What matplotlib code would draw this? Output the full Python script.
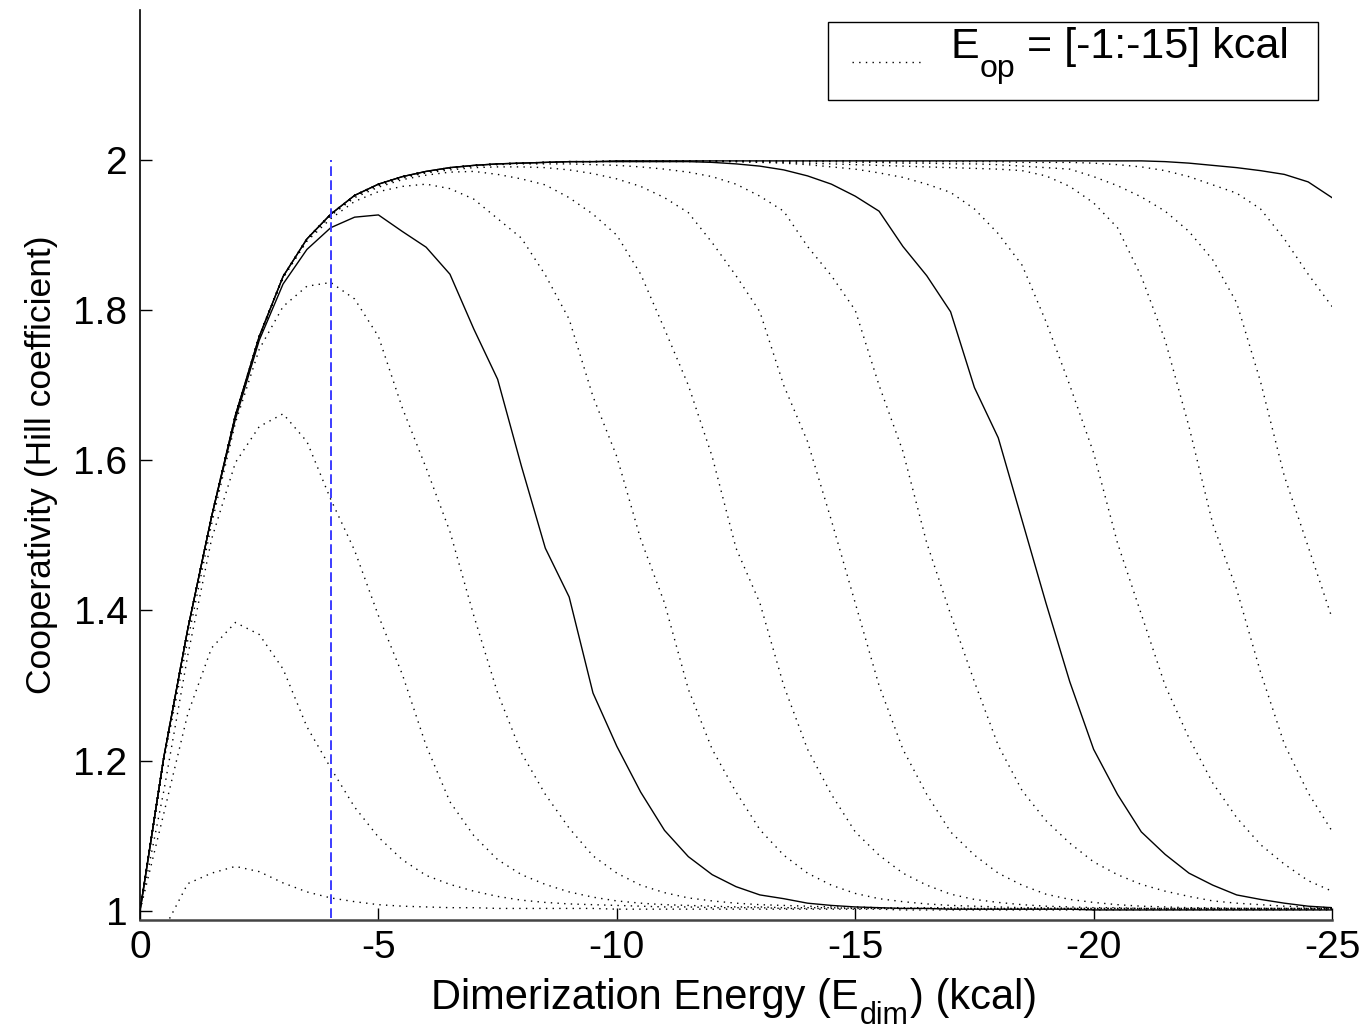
#!/usr/bin/env python3
"""
Cooperativity (Hill coefficient) vs dimerization energy for a family of
operator binding energies E_op = -1 ... -15 kcal.
"""

import matplotlib
matplotlib.use("Agg")
import matplotlib.pyplot as plt
from matplotlib.lines import Line2D
from matplotlib.patches import Rectangle
import numpy as np

# dimerization energy grid (kcal), 0.5 kcal steps
e_dim = np.linspace(0, -25, 51)

# operator energies of the curves
e_op = [-1, -2, -3, -4, -5, -6, -7, -8, -9, -10, -11, -12, -13, -14, -15]
solid_ops = [-5, -10, -15]

hill_op1 = [
    0.920, 0.975, 1.036, 1.050, 1.059, 1.052, 1.037, 1.025, 1.017, 1.012,
    1.008, 1.006, 1.005, 1.004, 1.004, 1.003, 1.003, 1.003, 1.003, 1.003,
    1.002, 1.002, 1.002, 1.002, 1.002, 1.002, 1.002, 1.002, 1.002, 1.002,
    1.002, 1.002, 1.001, 1.001, 1.001, 1.001, 1.001, 1.001, 1.001, 1.001,
    1.001, 1.001, 1.001, 1.001, 1.001, 1.001, 1.001, 1.001, 1.001, 1.001, 1.001]
hill_op2 = [
    1.000, 1.130, 1.262, 1.350, 1.384, 1.368, 1.322, 1.245, 1.190, 1.138,
    1.098, 1.068, 1.047, 1.035, 1.026, 1.019, 1.014, 1.011, 1.009, 1.008,
    1.007, 1.006, 1.005, 1.005, 1.004, 1.004, 1.004, 1.003, 1.003, 1.003,
    1.003, 1.003, 1.003, 1.003, 1.003, 1.002, 1.002, 1.002, 1.002, 1.002,
    1.002, 1.002, 1.002, 1.002, 1.002, 1.002, 1.002, 1.002, 1.002, 1.002, 1.002]
hill_op3 = [
    1.000, 1.160, 1.340, 1.495, 1.597, 1.645, 1.662, 1.625, 1.548, 1.480,
    1.393, 1.315, 1.220, 1.145, 1.100, 1.068, 1.048, 1.035, 1.025, 1.018,
    1.013, 1.010, 1.008, 1.007, 1.006, 1.005, 1.005, 1.004, 1.004, 1.004,
    1.003, 1.003, 1.003, 1.003, 1.003, 1.003, 1.003, 1.003, 1.003, 1.003,
    1.003, 1.003, 1.003, 1.002, 1.002, 1.002, 1.002, 1.002, 1.002, 1.002, 1.002]
hill_op4 = [
    1.000, 1.200, 1.360, 1.515, 1.650, 1.748, 1.805, 1.832, 1.837, 1.815,
    1.765, 1.670, 1.590, 1.505, 1.393, 1.290, 1.210, 1.155, 1.110, 1.073,
    1.050, 1.034, 1.024, 1.017, 1.013, 1.010, 1.008, 1.007, 1.006, 1.005,
    1.005, 1.004, 1.004, 1.004, 1.004, 1.003, 1.003, 1.003, 1.003, 1.003,
    1.003, 1.003, 1.003, 1.003, 1.003, 1.003, 1.003, 1.003, 1.003, 1.003, 1.003]
hill_op5 = [
    1.000, 1.205, 1.375, 1.525, 1.655, 1.760, 1.835, 1.881, 1.910, 1.924,
    1.927, 1.905, 1.884, 1.848, 1.775, 1.708, 1.592, 1.483, 1.418, 1.290,
    1.219, 1.158, 1.107, 1.072, 1.048, 1.032, 1.021, 1.016, 1.010, 1.007,
    1.005, 1.004, 1.003, 1.003, 1.002, 1.002, 1.002, 1.002, 1.002, 1.002,
    1.001, 1.001, 1.001, 1.001, 1.001, 1.001, 1.001, 1.001, 1.001, 1.001, 1.001]
hill_op6 = [
    1.000, 1.205, 1.375, 1.525, 1.660, 1.765, 1.843, 1.892, 1.922, 1.945,
    1.958, 1.965, 1.968, 1.962, 1.948, 1.922, 1.896, 1.847, 1.788, 1.685,
    1.605, 1.495, 1.410, 1.295, 1.215, 1.158, 1.108, 1.074, 1.050, 1.034,
    1.023, 1.016, 1.012, 1.009, 1.007, 1.006, 1.005, 1.004, 1.004, 1.003,
    1.003, 1.003, 1.003, 1.003, 1.003, 1.003, 1.003, 1.003, 1.003, 1.003, 1.003]
hill_op7 = [
    1.000, 1.205, 1.375, 1.525, 1.660, 1.765, 1.845, 1.894, 1.926, 1.950,
    1.964, 1.974, 1.980, 1.984, 1.985, 1.981, 1.975, 1.967, 1.950, 1.928,
    1.900, 1.848, 1.775, 1.700, 1.605, 1.483, 1.410, 1.300, 1.215, 1.155,
    1.105, 1.074, 1.050, 1.034, 1.022, 1.015, 1.011, 1.008, 1.006, 1.005,
    1.004, 1.004, 1.003, 1.003, 1.003, 1.003, 1.003, 1.003, 1.003, 1.003, 1.003]
hill_op8 = [
    1.000, 1.205, 1.375, 1.525, 1.660, 1.765, 1.845, 1.895, 1.927, 1.952,
    1.966, 1.976, 1.983, 1.987, 1.990, 1.991, 1.991, 1.990, 1.987, 1.982,
    1.975, 1.965, 1.950, 1.930, 1.890, 1.846, 1.798, 1.700, 1.625, 1.520,
    1.410, 1.300, 1.215, 1.155, 1.105, 1.074, 1.050, 1.034, 1.022, 1.015,
    1.011, 1.008, 1.006, 1.005, 1.004, 1.004, 1.003, 1.003, 1.003, 1.003, 1.003]
hill_op9 = [
    1.000, 1.205, 1.375, 1.525, 1.660, 1.765, 1.845, 1.895, 1.928, 1.953,
    1.967, 1.977, 1.984, 1.989, 1.992, 1.994, 1.995, 1.995, 1.995, 1.994,
    1.993, 1.991, 1.988, 1.984, 1.978, 1.968, 1.952, 1.932, 1.885, 1.846,
    1.800, 1.700, 1.612, 1.490, 1.395, 1.305, 1.220, 1.160, 1.120, 1.090,
    1.065, 1.048, 1.035, 1.026, 1.019, 1.013, 1.010, 1.008, 1.006, 1.005, 1.004]
hill_op10 = [
    1.000, 1.205, 1.375, 1.525, 1.660, 1.765, 1.845, 1.895, 1.928, 1.953,
    1.968, 1.978, 1.985, 1.990, 1.993, 1.995, 1.996, 1.997, 1.998, 1.998,
    1.998, 1.998, 1.998, 1.998, 1.997, 1.995, 1.992, 1.987, 1.979, 1.968,
    1.952, 1.932, 1.885, 1.846, 1.798, 1.697, 1.630, 1.520, 1.410, 1.305,
    1.215, 1.155, 1.105, 1.075, 1.050, 1.034, 1.021, 1.015, 1.010, 1.006, 1.004]
hill_op11 = [
    1.000, 1.205, 1.375, 1.525, 1.660, 1.765, 1.845, 1.895, 1.928, 1.953,
    1.968, 1.978, 1.985, 1.990, 1.993, 1.995, 1.996, 1.997, 1.998, 1.998,
    1.998, 1.998, 1.998, 1.998, 1.998, 1.998, 1.997, 1.996, 1.994, 1.991,
    1.988, 1.983, 1.977, 1.968, 1.957, 1.935, 1.902, 1.860, 1.785, 1.700,
    1.610, 1.490, 1.395, 1.300, 1.230, 1.170, 1.124, 1.088, 1.062, 1.040, 1.026]
hill_op12 = [
    1.000, 1.205, 1.375, 1.525, 1.660, 1.765, 1.845, 1.895, 1.928, 1.953,
    1.968, 1.978, 1.985, 1.990, 1.993, 1.995, 1.996, 1.997, 1.998, 1.998,
    1.999, 1.999, 1.999, 1.999, 1.999, 1.998, 1.998, 1.997, 1.996, 1.995,
    1.994, 1.993, 1.992, 1.991, 1.990, 1.989, 1.988, 1.986, 1.979, 1.965,
    1.943, 1.910, 1.845, 1.760, 1.645, 1.515, 1.428, 1.318, 1.222, 1.157, 1.106]
hill_op13 = [
    1.000, 1.205, 1.375, 1.525, 1.660, 1.765, 1.845, 1.895, 1.928, 1.953,
    1.968, 1.978, 1.985, 1.990, 1.993, 1.995, 1.996, 1.997, 1.998, 1.998,
    1.999, 1.999, 1.999, 1.999, 1.999, 1.999, 1.998, 1.998, 1.998, 1.998,
    1.997, 1.997, 1.996, 1.996, 1.995, 1.995, 1.994, 1.992, 1.990, 1.988,
    1.978, 1.966, 1.951, 1.932, 1.905, 1.867, 1.810, 1.705, 1.579, 1.485, 1.390]
hill_op14 = [
    1.000, 1.205, 1.375, 1.525, 1.660, 1.765, 1.845, 1.895, 1.928, 1.953,
    1.968, 1.978, 1.985, 1.990, 1.993, 1.995, 1.996, 1.997, 1.998, 1.998,
    1.999, 1.999, 1.999, 1.999, 1.999, 1.999, 1.999, 1.999, 1.999, 1.999,
    1.999, 1.998, 1.998, 1.998, 1.998, 1.998, 1.998, 1.997, 1.997, 1.997,
    1.996, 1.994, 1.991, 1.986, 1.978, 1.967, 1.956, 1.935, 1.895, 1.848, 1.805]
hill_op15 = [
    1.000, 1.205, 1.375, 1.525, 1.660, 1.765, 1.845, 1.895, 1.928, 1.953,
    1.968, 1.978, 1.985, 1.990, 1.993, 1.995, 1.996, 1.997, 1.998, 1.998,
    1.999, 1.999, 1.999, 1.999, 1.999, 1.999, 1.999, 1.999, 1.999, 1.999,
    1.999, 1.999, 1.999, 1.999, 1.999, 1.999, 1.999, 1.999, 1.999, 1.999,
    1.999, 1.999, 1.999, 1.998, 1.996, 1.993, 1.990, 1.986, 1.981, 1.971, 1.950]

hill_curves = [hill_op1, hill_op2, hill_op3, hill_op4, hill_op5,
               hill_op6, hill_op7, hill_op8, hill_op9, hill_op10,
               hill_op11, hill_op12, hill_op13, hill_op14, hill_op15]

# vertical reference marker (blue dashed)
marker_edim = -4.0
marker_span = [0.99, 2.0]

y_ticks = [1, 1.2, 1.4, 1.6, 1.8, 2]
x_ticks = [0, -5, -10, -15, -20, -25]

plt.rcParams['font.family'] = ['Liberation Sans', 'DejaVu Sans']
plt.rcParams['axes.unicode_minus'] = False

W, H = 1361, 1033
fig = plt.figure(figsize=(W / 100, H / 100), dpi=100)
ax = fig.add_axes([0.1029, 0.1094, 0.8758, 0.8809])

dotted = (0, (1, 3.8))
for op, hill in zip(e_op, hill_curves):
    ls = '-' if op in solid_ops else dotted
    ax.plot(e_dim, hill, color='black', lw=1.0, ls=ls)

ax.plot([marker_edim, marker_edim], marker_span, color='#3c3cff', lw=1.4,
        ls=(0, (5, 2.2)))

ax.set_xlim(0, -25)
ax.set_ylim(0.9876, 2.2)
ax.set_xticks(x_ticks)
ax.set_xticklabels([f"{t:g}" for t in x_ticks])
ax.set_yticks(y_ticks)
ax.set_yticklabels([f"{t:g}" for t in y_ticks])

for side in ('top', 'right'):
    ax.spines[side].set_visible(False)
ax.spines['left'].set_linewidth(1.2)
ax.spines['bottom'].set_linewidth(1.8)
ax.spines['bottom'].set_color('#444444')

ax.tick_params(direction='in', length=8.5, width=1.0, labelsize=28)
ax.tick_params(axis='y', pad=9)
ax.tick_params(axis='x', pad=7)

ax.set_ylabel('Cooperativity (Hill coefficient)', fontsize=25.5, labelpad=11)

renderer = fig.canvas.get_renderer()


def sub_text(parts, x0, base_y, center=False):
    """Draw MATLAB-style text with dropped subscripts.
    parts: (string, fontsize, drop_px, gap_before_px); coords in pixels."""
    items = []
    for s, size, drop, gap in parts:
        t = fig.text(0, 0, s, fontsize=size, va='baseline', ha='left')
        w = t.get_window_extent(renderer).width
        items.append((t, w, drop, gap))
    total = sum(w + g for _, w, _, g in items)
    x = x0 - total / 2 if center else x0
    for t, w, drop, gap in items:
        x += gap
        t.set_position((x / W, (base_y - drop) / H))
        x += w


# x label with subscript
sub_text([('Dimerization Energy (E', 30, 0, 0),
          ('dim', 22, 15, 1),
          (') (kcal)', 30, 0, 1)],
         x0=734, base_y=H - 1009, center=True)

# legend box, drawn like the MATLAB one
fig.add_artist(Rectangle((828 / W, (H - 100) / H), 490 / W, 78 / H,
                         transform=fig.transFigure, facecolor='white',
                         edgecolor='black', lw=1.0))
fig.add_artist(Line2D([852 / W, 925 / W], [(H - 62) / H] * 2,
                      transform=fig.transFigure, color='black', lw=1.0,
                      ls=dotted))
sub_text([('E', 31, 0, 0),
          ('op', 23, 19, 1),
          ('= [-1:-15] kcal', 31, 0, 12)],
         x0=950, base_y=H - 58)

fig.savefig('out.png', dpi=100)
plt.close(fig)
